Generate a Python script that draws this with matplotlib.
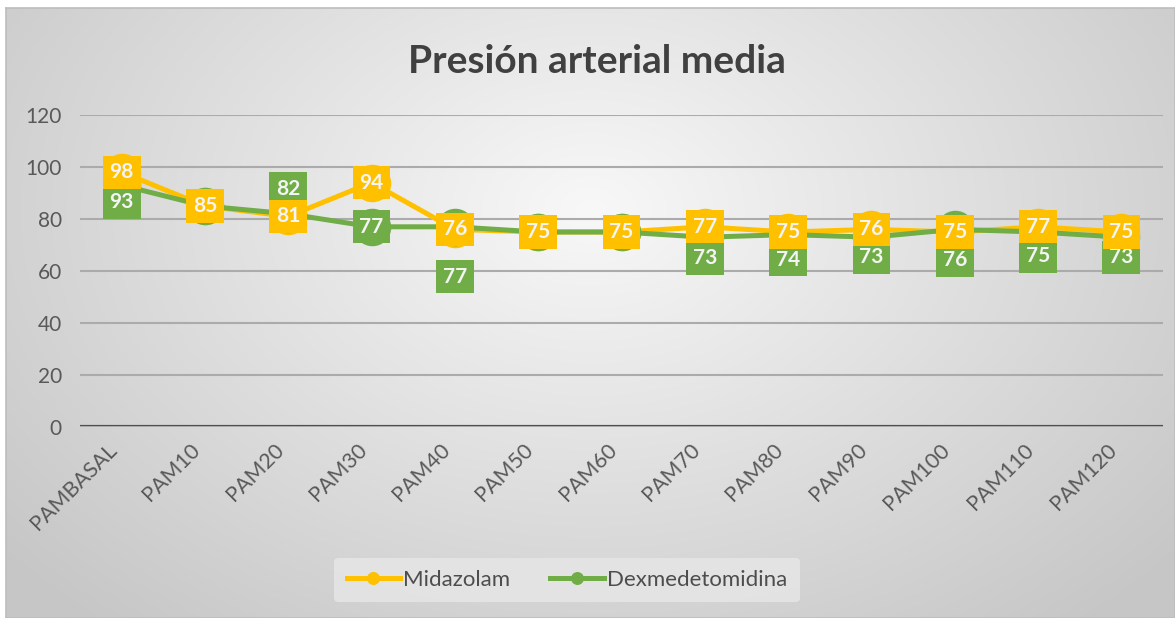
import numpy as np
import matplotlib
matplotlib.use('Agg')
import matplotlib.pyplot as plt
from matplotlib.transforms import ScaledTranslation

# Datos de presión arterial media por tiempo
categorias = ['PAMBASAL', 'PAM10', 'PAM20', 'PAM30', 'PAM40', 'PAM50', 'PAM60',
              'PAM70', 'PAM80', 'PAM90', 'PAM100', 'PAM110', 'PAM120']
midazolam = [98, 85, 81, 94, 76, 75, 75, 77, 75, 76, 75, 77, 75]
dexmedetomidina = [93, 85, 82, 77, 77, 75, 75, 73, 74, 73, 76, 75, 73]

# desplazamiento vertical de las etiquetas verdes (px, positivo hacia abajo)
desp_dex = [17, 0, -25, 0, 50, 0, 0, 21, 25, 20, 31, 24, 20]

amarillo = '#FFC000'
verde = '#70AD47'
plt.rcParams['font.family'] = ['Lato', 'DejaVu Sans']

fig = plt.figure(figsize=(11.75, 6.18), dpi=100)
fig.patch.set_facecolor('white')

# fondo con degradado radial
fondo = fig.add_axes([6 / 1175, 0, 1 - 6 / 1175, 1 - 8 / 618])
gx, gy = np.meshgrid(np.linspace(0, 1, 400), np.linspace(0, 1, 220))
r = np.sqrt(((gx - 0.5) / 0.55) ** 2 + ((gy - 0.33) / 0.75) ** 2)
tono = (248 - 50 * np.clip(r / 1.2, 0, 1)) / 255
fondo.imshow(np.dstack([tono, tono, tono]), aspect='auto', extent=[0, 1, 1, 0])
fondo.set_xlim(0, 1)
fondo.set_ylim(1, 0)
fondo.set_xticks([])
fondo.set_yticks([])
for s in fondo.spines.values():
    s.set_color('#bdbdbd')
    s.set_linewidth(1.2)

ax = fig.add_axes([80 / 1175, 1 - 427 / 618, 1083 / 1175, 312 / 618])
ax.patch.set_alpha(0)
x = np.arange(len(categorias))

ax.plot(x, midazolam, color=amarillo, lw=3.6, marker='o', ms=26,
        mec=amarillo, mfc=amarillo, zorder=3, label='Midazolam')
ax.plot(x, dexmedetomidina, color=verde, lw=3.6, marker='o', ms=26,
        mec=verde, mfc=verde, zorder=4, label='Dexmedetomidina')

caja = dict(boxstyle='square,pad=0.32', lw=0)
for i in range(len(categorias)):
    ax.annotate(str(dexmedetomidina[i]), (x[i], dexmedetomidina[i]),
                xytext=(0, -desp_dex[i] * 0.72), textcoords='offset points',
                ha='center', va='center', fontsize=15, fontweight='bold',
                color='#f4f4f4', bbox=dict(caja, fc=verde), zorder=6)
    ax.annotate(str(midazolam[i]), (x[i], midazolam[i]),
                ha='center', va='center', fontsize=15, fontweight='bold',
                color='#f4f4f4', bbox=dict(caja, fc=amarillo), zorder=7)

ax.set_xlim(-0.5, len(categorias) - 0.5)
ax.set_ylim(0, 120)
ax.set_yticks(range(0, 121, 20))
ax.grid(axis='y', color='#ababab', lw=1.5, zorder=0)
ax.axhline(0, color='#4a4a4a', lw=3, zorder=1)
for s in ax.spines.values():
    s.set_visible(False)
ax.tick_params(axis='both', length=0, colors='#595959', labelsize=15)
ax.tick_params(axis='y', pad=13)
ax.set_xticks(x)
ax.set_xticklabels(categorias, rotation=45, ha='right', rotation_mode='anchor',
                   fontsize=15.5)
ax.tick_params(axis='x', pad=9)
corrimiento = ScaledTranslation(-15 / 100, 0, fig.dpi_scale_trans)
for etq in ax.get_xticklabels():
    etq.set_transform(etq.get_transform() + corrimiento)

fig.text(0.508, 0.9, 'Presión arterial media', ha='center', va='center',
         fontsize=28, fontweight='bold', color='#404040')

ley = fig.legend(loc='center', bbox_to_anchor=(567 / 1175, 1 - 580 / 618),
                 ncol=2, fontsize=16, frameon=True, markerscale=0.32,
                 handlelength=2.4, handletextpad=0.15, columnspacing=1.8,
                 borderpad=0.55)
ley.get_frame().set_facecolor('#e6e6e6')
ley.get_frame().set_edgecolor('none')
ley.get_frame().set_alpha(0.85)
for t in ley.get_texts():
    t.set_color('#4d4d4d')

fig.savefig('out.png', dpi=100)
